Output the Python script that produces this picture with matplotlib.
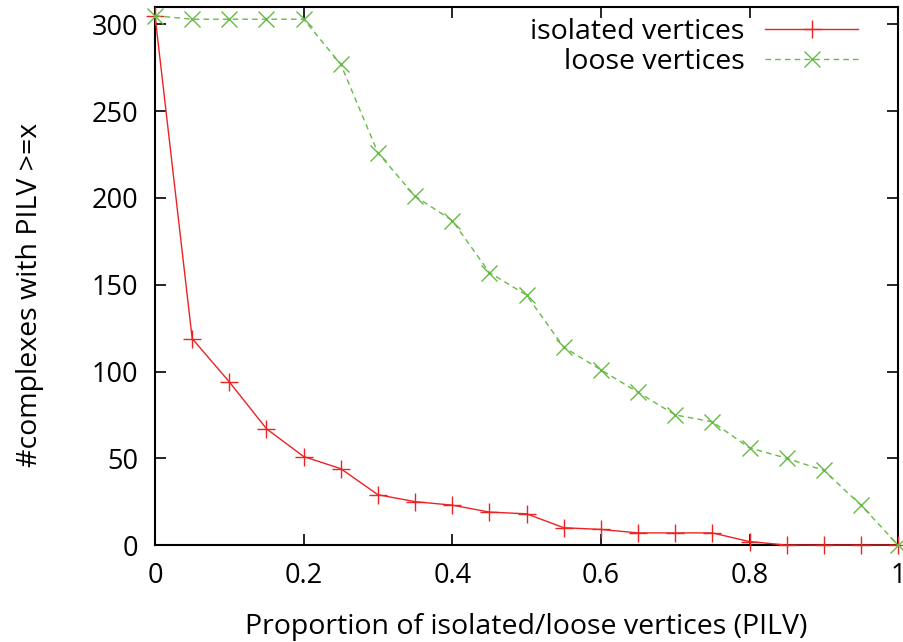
import matplotlib
matplotlib.use('Agg')
import matplotlib.pyplot as plt

# PILV thresholds and counts
pilv = [0.0, 0.05, 0.1, 0.15, 0.2, 0.25, 0.3, 0.35, 0.4, 0.45, 0.5,
        0.55, 0.6, 0.65, 0.7, 0.75, 0.8, 0.85, 0.9, 0.95, 1.0]
isolated = [305, 119, 94, 67, 51, 44, 29, 25, 23, 19, 18,
            10, 9, 7, 7, 7, 2, 0, 0, 0, 0]
loose = [305, 303, 303, 303, 303, 277, 226, 201, 187, 157, 144,
         114, 101, 88, 75, 71, 56, 50, 43, 23, 0]

xticks = [0, 0.2, 0.4, 0.6, 0.8, 1]
xticklabels = ['0', '0.2', '0.4', '0.6', '0.8', '1']
yticks = [0, 50, 100, 150, 200, 250, 300]

plt.rcParams['font.family'] = ['Open Sans', 'DejaVu Sans']
plt.rcParams['font.size'] = 20.5

fig = plt.figure(figsize=(9.04, 6.42), dpi=100)
ax = fig.add_axes([0.1715, 0.151, 0.822, 0.838])

ax.plot(pilv, isolated, color='#ee2222', lw=1.0, marker='+', ms=13, mew=1.0,
        label='isolated vertices', clip_on=False, zorder=3)
ax.plot(pilv, loose, color='#66bb44', lw=1.0, ls=(0, (4, 3)), marker='x', ms=12,
        mew=1.0, label='loose vertices', clip_on=False, zorder=3)

ax.set_xlim(0, 1)
ax.set_ylim(0, 310)
ax.set_xticks(xticks)
ax.set_xticklabels(xticklabels)
ax.set_yticks(yticks)
ax.tick_params(direction='in', length=8, width=1.2, top=True, right=True, pad=12)
ax.tick_params(axis='x', labelsize=19.5)
ax.tick_params(axis='y', labelsize=19.5)
for s in ax.spines.values():
    s.set_linewidth(1.5)

ax.set_xlabel('Proportion of isolated/loose vertices (PILV)', labelpad=17)
ax.set_ylabel('#complexes with PILV >=x')
ax.yaxis.set_label_coords(-0.15, 0.464)

ax.legend(loc='upper right', frameon=False, markerfirst=False, handlelength=3.3,
          borderaxespad=0.0, labelspacing=0.05, handletextpad=0.7,
          bbox_to_anchor=(0.962, 1.0))

fig.savefig('out.png', dpi=100)
